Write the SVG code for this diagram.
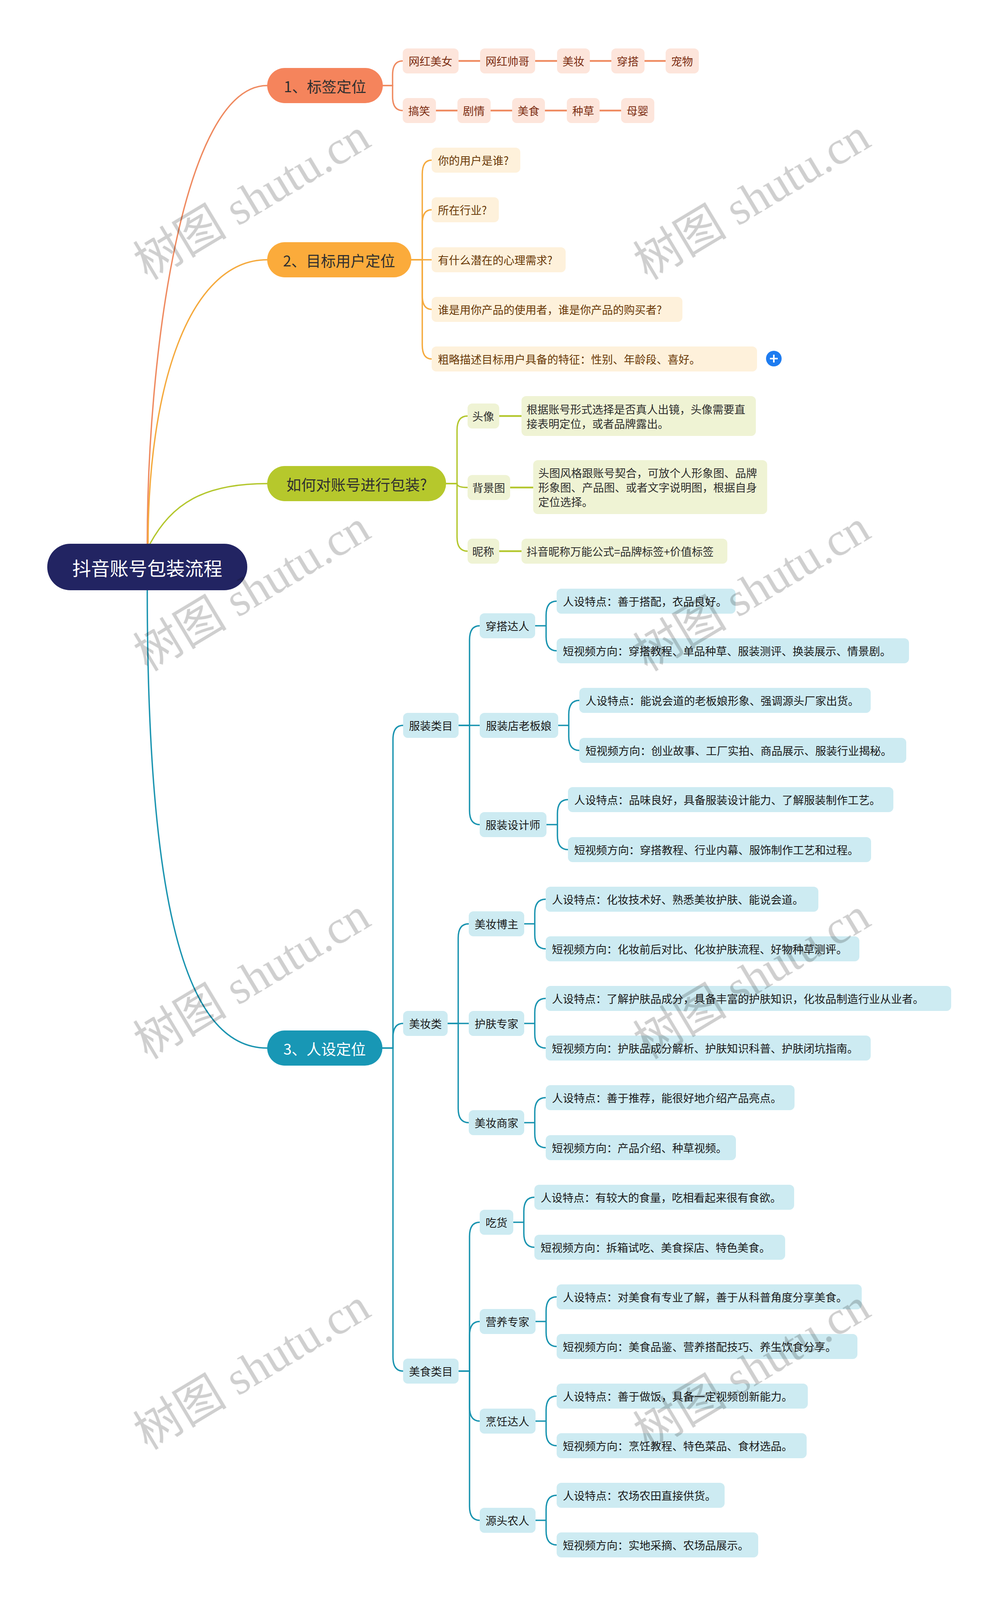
<svg xmlns="http://www.w3.org/2000/svg" width="2560" height="4112" viewBox="0 0 2560 4112">
<style>
text{font-family:"Noto Sans CJK SC","Microsoft YaHei",sans-serif;dominant-baseline:central}
#watermarks{mix-blend-mode:multiply}
.wm{font-family:"Liberation Serif","Noto Sans CJK SC",serif;font-size:120px;fill:#cfcfcf;text-anchor:middle}
.c{fill:none;stroke-width:3.5;stroke-linecap:round}
.k{fill:none;stroke-width:4.5}
.o{stroke:#ef8a60}.y{stroke:#f5aa3e}.g{stroke:#b4c72e}.t{stroke:#1a94b0}
.br text{font-size:38px;text-anchor:middle}
.s{font-size:28px}
.m{text-anchor:middle}
.tag rect{fill:#fde5db}.tag text{fill:#7c2d12}
.q rect{fill:#fef1db}.q text{fill:#6a3906}
.p rect{fill:#eff3d4}.p text{fill:#2e2e2e}
.n rect{fill:#cdebf2}.n text{fill:#1a1a1a}
</style>
<rect width="2560" height="4112" fill="#ffffff"/>

<g id="connectors">
<path class="c o" d="M377,1392 C377,900 470,219 684,219"/>
<path class="c y" d="M379,1392 C379,1000 480,665 684,665"/>
<path class="c g" d="M384,1392 C440,1290 520,1238 684,1238"/>
<path class="c t" d="M377,1511 C377,2300 470,2683 684,2683"/>

<path class="c o" d="M980,219 H1005 V192 Q1005,156 1031,156"/>
<path class="c o" d="M980,219 H1005 V247 Q1005,283 1031,283"/>
<path class="k o" d="M1174,156 H1229 M1370,156 H1426 M1510,156 H1565 M1650,156 H1704"/>
<path class="k o" d="M1116,283 H1171 M1256,283 H1311 M1395,283 H1451 M1535,283 H1590"/>

<path class="c y" d="M1053,665 H1081 V446 Q1081,410 1105,410"/>
<path class="c y" d="M1053,665 H1081 V573 Q1081,537 1105,537"/>
<path class="c y" d="M1053,665 H1105"/>
<path class="c y" d="M1053,665 H1081 V756 Q1081,792 1105,792"/>
<path class="c y" d="M1053,665 H1081 V883 Q1081,919 1105,919"/>

<path class="c g" d="M1142,1238 H1170 V1101 Q1170,1065 1197,1065"/>
<path class="c g" d="M1142,1238 H1170 Q1170,1248 1197,1248"/>
<path class="c g" d="M1142,1238 H1170 V1375 Q1170,1411 1197,1411"/>
<path class="k g" d="M1278,1065 H1335 M1306,1248 H1365 M1278,1411 H1335"/>

<path class="c t" d="M979,2683 H1006 V1893 Q1006,1857 1032,1857"/>
<path class="c t" d="M979,2683 H1006 V2656 Q1006,2620 1032,2620"/>
<path class="c t" d="M979,2683 H1006 V3474 Q1006,3510 1032,3510"/>

<path class="c t" d="M1174,1857 H1202 V1638 Q1202,1602 1228,1602"/>
<path class="c t" d="M1174,1857 H1228"/>
<path class="c t" d="M1174,1857 H1202 V2075 Q1202,2111 1228,2111"/>
<path class="c t" d="M1370,1602 H1398 V1575 Q1398,1539 1425,1539 M1370,1602 H1398 V1630 Q1398,1666 1425,1666"/>
<path class="c t" d="M1429,1857 H1456 V1829 Q1456,1793 1483,1793 M1429,1857 H1456 V1885 Q1456,1921 1483,1921"/>
<path class="c t" d="M1399,2111 H1427 V2083 Q1427,2047 1454,2047 M1399,2111 H1427 V2139 Q1427,2175 1454,2175"/>

<path class="c t" d="M1146,2620 H1173 V2401 Q1173,2365 1200,2365"/>
<path class="c t" d="M1146,2620 H1200"/>
<path class="c t" d="M1146,2620 H1173 V2838 Q1173,2874 1200,2874"/>
<path class="c t" d="M1342,2365 H1369 V2338 Q1369,2302 1397,2302 M1342,2365 H1369 V2393 Q1369,2429 1397,2429"/>
<path class="c t" d="M1342,2620 H1369 V2592 Q1369,2556 1397,2556 M1342,2620 H1369 V2647 Q1369,2683 1397,2683"/>
<path class="c t" d="M1342,2874 H1369 V2846 Q1369,2810 1397,2810 M1342,2874 H1369 V2902 Q1369,2938 1397,2938"/>

<path class="c t" d="M1174,3510 H1202 V3165 Q1202,3129 1228,3129"/>
<path class="c t" d="M1174,3510 H1202 V3419 Q1202,3383 1228,3383"/>
<path class="c t" d="M1174,3510 H1202 V3602 Q1202,3638 1228,3638"/>
<path class="c t" d="M1174,3510 H1202 V3856 Q1202,3892 1228,3892"/>
<path class="c t" d="M1314,3129 H1341 V3101 Q1341,3065 1368,3065 M1314,3129 H1341 V3157 Q1341,3193 1368,3193"/>
<path class="c t" d="M1371,3383 H1398 V3356 Q1398,3320 1425,3320 M1371,3383 H1398 V3411 Q1398,3447 1425,3447"/>
<path class="c t" d="M1371,3638 H1398 V3610 Q1398,3574 1425,3574 M1371,3638 H1398 V3665 Q1398,3701 1425,3701"/>
<path class="c t" d="M1371,3892 H1398 V3864 Q1398,3828 1425,3828 M1371,3892 H1398 V3919 Q1398,3955 1425,3955"/>
</g>

<g id="root">
<rect x="121" y="1392" width="512" height="119" rx="59" fill="#222462"/>
<text x="377" y="1452" font-size="48" fill="#ffffff" text-anchor="middle">抖音账号包装流程</text>
</g>

<g id="branch-1" class="br">
<rect x="684" y="174" width="296" height="90" rx="45" fill="#f5845c"/>
<text x="832" y="219" fill="#2f2f2f">1、标签定位</text>
</g>
<g id="branch-2" class="br">
<rect x="684" y="620" width="369" height="90" rx="45" fill="#fbab3b"/>
<text x="868" y="665" fill="#2f2f2f">2、目标用户定位</text>
</g>
<g id="branch-pack" class="br">
<rect x="684" y="1193" width="458" height="90" rx="45" fill="#b6c82c"/>
<text x="913" y="1238" fill="#2f2f2f">如何对账号进行包装?</text>
</g>
<g id="branch-3" class="br">
<rect x="684" y="2638" width="295" height="90" rx="45" fill="#1897b5"/>
<text x="831" y="2683" fill="#ffffff">3、人设定位</text>
</g>

<g class="tag">
<g id="tag-1"><rect x="1031" y="124" width="143" height="64" rx="12"/><text class="s m" x="1102" y="156">网红美女</text></g>
<g id="tag-2"><rect x="1229" y="124" width="141" height="64" rx="12"/><text class="s m" x="1299" y="156">网红帅哥</text></g>
<g id="tag-3"><rect x="1426" y="124" width="84" height="64" rx="12"/><text class="s m" x="1468" y="156">美妆</text></g>
<g id="tag-4"><rect x="1565" y="124" width="85" height="64" rx="12"/><text class="s m" x="1607" y="156">穿搭</text></g>
<g id="tag-5"><rect x="1704" y="124" width="85" height="64" rx="12"/><text class="s m" x="1746" y="156">宠物</text></g>
<g id="tag-6"><rect x="1031" y="251" width="85" height="64" rx="12"/><text class="s m" x="1073" y="283">搞笑</text></g>
<g id="tag-7"><rect x="1171" y="251" width="85" height="64" rx="12"/><text class="s m" x="1213" y="283">剧情</text></g>
<g id="tag-8"><rect x="1311" y="251" width="84" height="64" rx="12"/><text class="s m" x="1353" y="283">美食</text></g>
<g id="tag-9"><rect x="1451" y="251" width="84" height="64" rx="12"/><text class="s m" x="1493" y="283">种草</text></g>
<g id="tag-10"><rect x="1590" y="251" width="85" height="64" rx="12"/><text class="s m" x="1632" y="283">母婴</text></g>
</g>

<g class="q">
<g id="q-1"><rect x="1105" y="378" width="227" height="64" rx="12"/><text class="s" x="1121" y="410">你的用户是谁?</text></g>
<g id="q-2"><rect x="1105" y="505" width="172" height="64" rx="12"/><text class="s" x="1121" y="537">所在行业?</text></g>
<g id="q-3"><rect x="1105" y="633" width="343" height="64" rx="12"/><text class="s" x="1121" y="665">有什么潜在的心理需求?</text></g>
<g id="q-4"><rect x="1105" y="760" width="642" height="64" rx="12"/><text class="s" x="1121" y="792">谁是用你产品的使用者，谁是你产品的购买者?</text></g>
<g id="q-5"><rect x="1105" y="887" width="833" height="64" rx="12"/><text class="s" x="1121" y="919">粗略描述目标用户具备的特征：性别、年龄段、喜好。</text></g>
<g id="expand-icon"><circle cx="1981" cy="918" r="20" fill="#1e7cf0"/><path d="M1971,918 H1991 M1981,908 V928" stroke="#ffffff" stroke-width="4"/></g>
</g>

<g class="p">
<g id="avatar"><rect x="1197" y="1033" width="81" height="64" rx="12"/><text class="s m" x="1237" y="1065">头像</text></g>
<g id="avatar-desc"><rect x="1335" y="1014" width="600" height="102" rx="12"/>
<text class="s" x="1348" y="1047">根据账号形式选择是否真人出镜，头像需要直</text>
<text class="s" x="1348" y="1084">接表明定位，或者品牌露出。</text></g>
<g id="bg"><rect x="1197" y="1216" width="109" height="64" rx="12"/><text class="s m" x="1251" y="1248">背景图</text></g>
<g id="bg-desc"><rect x="1365" y="1178" width="599" height="138" rx="12"/>
<text class="s" x="1378" y="1210">头图风格跟账号契合，可放个人形象图、品牌</text>
<text class="s" x="1378" y="1247">形象图、产品图、或者文字说明图，根据自身</text>
<text class="s" x="1378" y="1284">定位选择。</text></g>
<g id="nick"><rect x="1197" y="1379" width="81" height="64" rx="12"/><text class="s m" x="1237" y="1411">昵称</text></g>
<g id="nick-desc"><rect x="1335" y="1379" width="527" height="64" rx="12"/><text class="s" x="1348" y="1411">抖音昵称万能公式=品牌标签+价值标签</text></g>
</g>

<g class="n">
<g id="cat-clothes"><rect x="1032" y="1825" width="142" height="64" rx="12"/><text class="s m" x="1103" y="1857">服装类目</text></g>
<g id="cat-beauty"><rect x="1032" y="2588" width="114" height="64" rx="12"/><text class="s m" x="1089" y="2620">美妆类</text></g>
<g id="cat-food"><rect x="1032" y="3478" width="142" height="64" rx="12"/><text class="s m" x="1103" y="3510">美食类目</text></g>

<g id="r-1"><rect x="1228" y="1570" width="142" height="64" rx="12"/><text class="s m" x="1299" y="1602">穿搭达人</text></g>
<g id="r-1a"><rect x="1425" y="1507" width="458" height="64" rx="12"/><text class="s" x="1441" y="1539">人设特点：善于搭配，衣品良好。</text></g>
<g id="r-1b"><rect x="1425" y="1634" width="902" height="64" rx="12"/><text class="s" x="1441" y="1666">短视频方向：穿搭教程、单品种草、服装测评、换装展示、情景剧。</text></g>

<g id="r-2"><rect x="1228" y="1825" width="201" height="64" rx="12"/><text class="s m" x="1328" y="1857">服装店老板娘</text></g>
<g id="r-2a"><rect x="1483" y="1761" width="746" height="64" rx="12"/><text class="s" x="1499" y="1793">人设特点：能说会道的老板娘形象、强调源头厂家出货。</text></g>
<g id="r-2b"><rect x="1483" y="1889" width="837" height="64" rx="12"/><text class="s" x="1499" y="1921">短视频方向：创业故事、工厂实拍、商品展示、服装行业揭秘。</text></g>

<g id="r-3"><rect x="1228" y="2079" width="171" height="64" rx="12"/><text class="s m" x="1313" y="2111">服装设计师</text></g>
<g id="r-3a"><rect x="1454" y="2015" width="833" height="64" rx="12"/><text class="s" x="1470" y="2047">人设特点：品味良好，具备服装设计能力、了解服装制作工艺。</text></g>
<g id="r-3b"><rect x="1454" y="2143" width="776" height="64" rx="12"/><text class="s" x="1470" y="2175">短视频方向：穿搭教程、行业内幕、服饰制作工艺和过程。</text></g>

<g id="r-4"><rect x="1200" y="2333" width="142" height="64" rx="12"/><text class="s m" x="1271" y="2365">美妆博主</text></g>
<g id="r-4a"><rect x="1397" y="2270" width="698" height="64" rx="12"/><text class="s" x="1413" y="2302">人设特点：化妆技术好、熟悉美妆护肤、能说会道。</text></g>
<g id="r-4b"><rect x="1397" y="2397" width="803" height="64" rx="12"/><text class="s" x="1413" y="2429">短视频方向：化妆前后对比、化妆护肤流程、好物种草测评。</text></g>

<g id="r-5"><rect x="1200" y="2588" width="142" height="64" rx="12"/><text class="s m" x="1271" y="2620">护肤专家</text></g>
<g id="r-5a"><rect x="1397" y="2524" width="1038" height="64" rx="12"/><text class="s" x="1413" y="2556">人设特点：了解护肤品成分，具备丰富的护肤知识，化妆品制造行业从业者。</text></g>
<g id="r-5b"><rect x="1397" y="2651" width="832" height="64" rx="12"/><text class="s" x="1413" y="2683">短视频方向：护肤品成分解析、护肤知识科普、护肤闭坑指南。</text></g>

<g id="r-6"><rect x="1200" y="2842" width="142" height="64" rx="12"/><text class="s m" x="1271" y="2874">美妆商家</text></g>
<g id="r-6a"><rect x="1397" y="2778" width="637" height="64" rx="12"/><text class="s" x="1413" y="2810">人设特点：善于推荐，能很好地介绍产品亮点。</text></g>
<g id="r-6b"><rect x="1397" y="2906" width="487" height="64" rx="12"/><text class="s" x="1413" y="2938">短视频方向：产品介绍、种草视频。</text></g>

<g id="r-7"><rect x="1228" y="3097" width="86" height="64" rx="12"/><text class="s m" x="1271" y="3129">吃货</text></g>
<g id="r-7a"><rect x="1368" y="3033" width="665" height="64" rx="12"/><text class="s" x="1384" y="3065">人设特点：有较大的食量，吃相看起来很有食欲。</text></g>
<g id="r-7b"><rect x="1368" y="3161" width="642" height="64" rx="12"/><text class="s" x="1384" y="3193">短视频方向：拆箱试吃、美食探店、特色美食。</text></g>

<g id="r-8"><rect x="1228" y="3351" width="143" height="64" rx="12"/><text class="s m" x="1299" y="3383">营养专家</text></g>
<g id="r-8a"><rect x="1425" y="3288" width="781" height="64" rx="12"/><text class="s" x="1441" y="3320">人设特点：对美食有专业了解，善于从科普角度分享美食。</text></g>
<g id="r-8b"><rect x="1425" y="3415" width="770" height="64" rx="12"/><text class="s" x="1441" y="3447">短视频方向：美食品鉴、营养搭配技巧、养生饮食分享。</text></g>

<g id="r-9"><rect x="1228" y="3606" width="143" height="64" rx="12"/><text class="s m" x="1299" y="3638">烹饪达人</text></g>
<g id="r-9a"><rect x="1425" y="3542" width="643" height="64" rx="12"/><text class="s" x="1441" y="3574">人设特点：善于做饭，具备一定视频创新能力。</text></g>
<g id="r-9b"><rect x="1425" y="3669" width="640" height="64" rx="12"/><text class="s" x="1441" y="3701">短视频方向：烹饪教程、特色菜品、食材选品。</text></g>

<g id="r-10"><rect x="1228" y="3860" width="143" height="64" rx="12"/><text class="s m" x="1299" y="3892">源头农人</text></g>
<g id="r-10a"><rect x="1425" y="3796" width="430" height="64" rx="12"/><text class="s" x="1441" y="3828">人设特点：农场农田直接供货。</text></g>
<g id="r-10b"><rect x="1425" y="3923" width="516" height="64" rx="12"/><text class="s" x="1441" y="3955">短视频方向：实地采摘、农场品展示。</text></g>
</g>

<g id="watermarks">
<text class="wm" transform="rotate(-31 645 510)" x="645" y="510">树图 shutu.cn</text>
<text class="wm" transform="rotate(-31 1925 510)" x="1925" y="510">树图 shutu.cn</text>
<text class="wm" transform="rotate(-31 645 1512)" x="645" y="1512">树图 shutu.cn</text>
<text class="wm" transform="rotate(-31 1925 1512)" x="1925" y="1512">树图 shutu.cn</text>
<text class="wm" transform="rotate(-31 645 2505)" x="645" y="2505">树图 shutu.cn</text>
<text class="wm" transform="rotate(-31 1925 2505)" x="1925" y="2505">树图 shutu.cn</text>
<text class="wm" transform="rotate(-31 645 3505)" x="645" y="3505">树图 shutu.cn</text>
<text class="wm" transform="rotate(-31 1925 3505)" x="1925" y="3505">树图 shutu.cn</text>
</g>
</svg>
